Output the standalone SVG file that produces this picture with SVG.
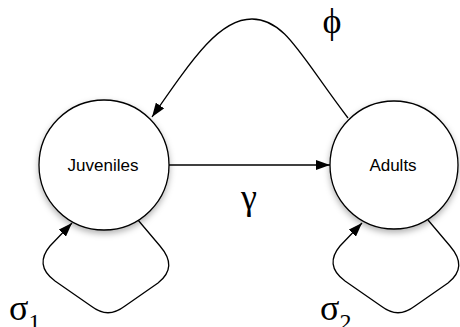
<svg xmlns="http://www.w3.org/2000/svg" width="460" height="327" viewBox="0 0 460 327">
<style>
.node{fill:#fff;stroke:#000;stroke-width:1.3}
.edge{fill:none;stroke:#000;stroke-width:1.3}
.lbl{font-family:"Liberation Sans",Arial,sans-serif;font-size:17px;text-anchor:middle;fill:#000}
.greek{font-family:"Liberation Serif","Times New Roman",serif;font-size:36px;fill:#000}
</style>
<defs>
<marker id="arr" markerUnits="userSpaceOnUse" markerWidth="14" markerHeight="10" refX="14" refY="5" orient="auto">
<path d="M0,0 L14,5 L0,10 z" fill="#000"/>
</marker>
<filter id="sh" x="-30%" y="-30%" width="160%" height="170%">
<feDropShadow dx="0" dy="3" stdDeviation="3" flood-color="#000" flood-opacity="0.3"/>
</filter>
</defs>
<g id="connectors">
<path class="edge" d="M169,165 L330,165" marker-end="url(#arr)"/>
<path class="edge" d="M348,118 C300,55 285,19 252,19 C220,19 195,55 152,117" marker-end="url(#arr)"/>
<path class="edge" d="M138,220 L160,246 C172,260 172,272 158,283 L125,306 C113,315 103,315 91,306 L55,281 C40,270 40,258 50,246 L72,223" marker-end="url(#arr)"/>
<path class="edge" d="M428,220 L450,246 C462,260 462,272 448,283 L415,306 C403,315 393,315 381,306 L345,281 C330,270 330,258 340,246 L362,223" marker-end="url(#arr)"/>
</g>
<g id="juveniles">
<circle class="node" cx="104" cy="165" r="65" filter="url(#sh)"/>
<text class="lbl" x="103" y="171">Juveniles</text>
</g>
<g id="adults">
<circle class="node" cx="394" cy="165" r="64" filter="url(#sh)"/>
<text class="lbl" x="393" y="171">Adults</text>
</g>
<g id="labels">
<text class="greek" x="332" y="33" text-anchor="middle">ϕ</text>
<text class="greek" x="249" y="209" text-anchor="middle">γ</text>
<text class="greek" x="9" y="320" font-size="34">σ<tspan font-size="24" dy="10">1</tspan></text>
<text class="greek" x="320" y="320" font-size="34">σ<tspan font-size="24" dy="10">2</tspan></text>
</g>
</svg>
